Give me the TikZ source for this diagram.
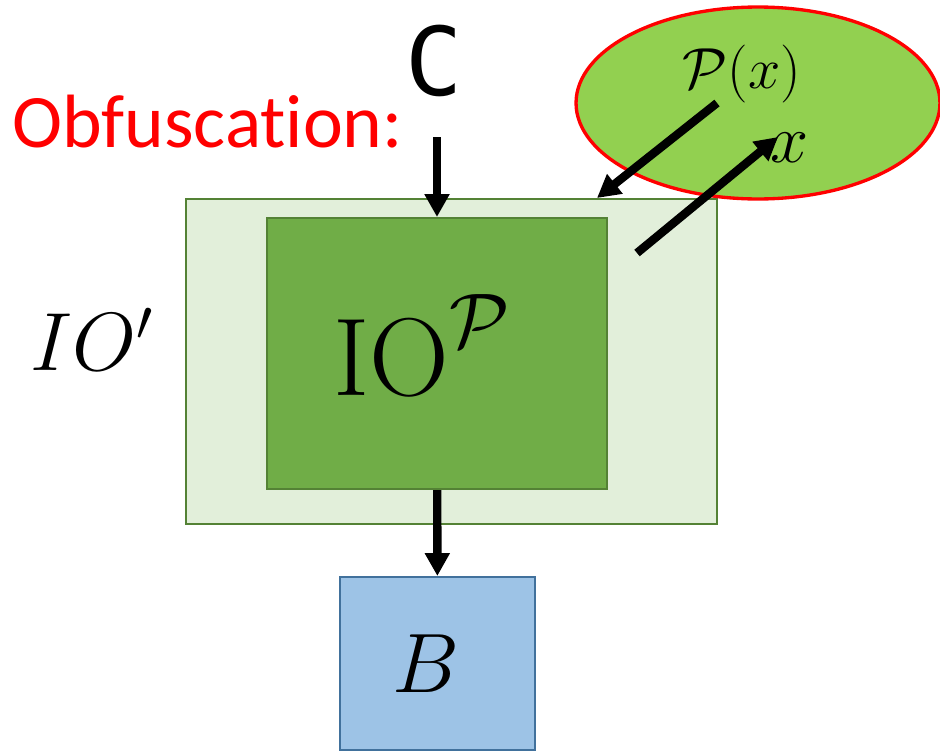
\RequirePackage{fix-cm}
\documentclass[tikz,border=0pt]{standalone}
\usepackage{fontspec}
\usetikzlibrary{shapes.geometric,arrows.meta}
\newfontfamily\calib[Ligatures=NoCommon]{Carlito}
\newfontfamily\consol{DejaVu Sans Mono}
\definecolor{outerfill}{HTML}{E2EFDA}
\definecolor{innerfill}{HTML}{70AD47}
\definecolor{boxline}{HTML}{548235}
\definecolor{ellfill}{HTML}{92D050}
\definecolor{bfill}{HTML}{9DC3E6}
\definecolor{bline}{HTML}{41719C}
\begin{document}
\begin{tikzpicture}[x=0.02cm, y=-0.02cm,
    box/.style = {draw=boxline, line width=1.2pt, inner sep=0pt},
    arr/.style = {line width=4.8pt, -{Triangle[length=13pt, width=13.5pt]}},
    lbl/.style = {inner sep=0pt, anchor=base}]
    \useasboundingbox (0,0) rectangle (940,751);
    \node[box, fill=outerfill, minimum width=10.62cm, minimum height=6.5cm] (io) at (451.5,361.5) {};
    \node[box, fill=innerfill, minimum width=6.8cm, minimum height=5.42cm] (iop) at (437,353.5) {};
    \node[box, draw=bline, fill=bfill, minimum width=3.9cm, minimum height=3.46cm] (b) at (437.5,663.5) {};
    \node[ellipse, draw=red, line width=1.9pt, fill=ellfill, minimum width=7.28cm, minimum height=3.84cm] (orc) at (758,103) {};
    \node[lbl, font=\fontsize{63}{69}\selectfont] (iopname) at (422,395) {$\mathrm{IO}^{\mathcal{P}}$};
    \node[lbl, font=\fontsize{48}{52}\selectfont] (bname) at (426,692) {$B$};
    \node[lbl, anchor=base west, text=red, font=\calib\fontsize{43}{48}\selectfont] (obf) at (12,147) {Obfuscation:};
    \node[lbl, font=\consol\fontsize{54}{58}\selectfont] (c) at (434,95) {C};
    \node[lbl, font=\fontsize{47}{52}\selectfont] (ioname) at (92,370) {$IO'$};
    \node[lbl, font=\fontsize{33}{36}\selectfont] (px) at (742,88) {$\mathcal{P}(x)$};
    \node[lbl, font=\fontsize{39}{42}\selectfont] (x) at (790,162) {$x$};
    \coordinate (pxout) at (717,103);
    \coordinate (pxin) at (597,198);
    \coordinate (xout) at (637,253);
    \coordinate (xin) at (778,137);
    \draw[arr, shorten <=23pt] (c.south -| iop.north) -- (iop.north);
    \draw[arr] (iop) -- (b);
    \draw[arr] (pxout) -- (pxin);
    \draw[arr] (xout) -- (xin);
\end{tikzpicture}
\end{document}
